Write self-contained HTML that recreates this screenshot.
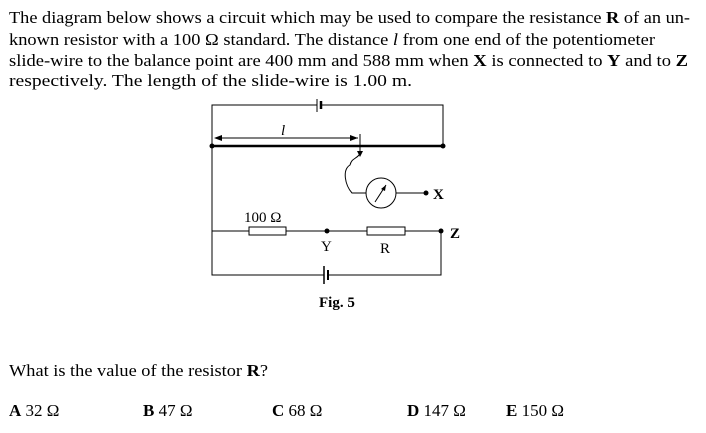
<!DOCTYPE html>
<html><head><meta charset="utf-8"><style>
html,body{margin:0;padding:0;background:#fff;}
svg{display:block;font-family:"Liberation Serif",serif;}
</style></head><body>
<svg width="706" height="433" viewBox="0 0 706 433" xmlns="http://www.w3.org/2000/svg">
<g font-size="17" fill="#000">
<text x="9" y="23" textLength="681" lengthAdjust="spacingAndGlyphs">The diagram below shows a circuit which may be used to compare the resistance <tspan font-weight="bold">R</tspan> of an un-</text>
<text x="9" y="45" textLength="646" lengthAdjust="spacingAndGlyphs">known resistor with a 100 Ω standard. The distance <tspan font-style="italic">l</tspan> from one end of the potentiometer</text>
<text x="9" y="66" textLength="679" lengthAdjust="spacingAndGlyphs">slide-wire to the balance point are 400 mm and 588 mm when <tspan font-weight="bold">X</tspan> is  connected to <tspan font-weight="bold">Y</tspan> and to <tspan font-weight="bold">Z</tspan></text>
<text x="9" y="86" textLength="403" lengthAdjust="spacingAndGlyphs">respectively. The length of the slide-wire is 1.00 m.</text>
<text x="9" y="376" textLength="259" lengthAdjust="spacingAndGlyphs">What is the value of the resistor <tspan font-weight="bold">R</tspan>?</text>
<text x="9" y="416"><tspan font-weight="bold">A</tspan> 32 Ω</text>
<text x="143" y="416"><tspan font-weight="bold">B</tspan> 47 Ω</text>
<text x="272" y="416"><tspan font-weight="bold">C</tspan> 68 Ω</text>
<text x="407" y="416"><tspan font-weight="bold">D</tspan> 147 Ω</text>
<text x="506" y="416"><tspan font-weight="bold">E</tspan> 150 Ω</text>
</g>
<g stroke="#000" fill="none" stroke-width="1">
<polyline points="317,105 212,105 212,275 324,275"/>
<polyline points="322,105 443,105 443,146"/>
<line x1="317" y1="99" x2="317" y2="112"/>
<line x1="321" y1="101" x2="321" y2="109" stroke-width="2.5"/>
<line x1="212" y1="146" x2="443" y2="146" stroke-width="2.5"/>
<line x1="216" y1="138" x2="358" y2="138"/>
<line x1="360" y1="134" x2="360" y2="154"/>
<path d="M360,154 C355,160 352,158 350,165 C342,170 345,185 352,193 L366,193"/>
<circle cx="381" cy="193" r="15"/>
<line x1="375" y1="202" x2="386" y2="185"/>
<line x1="396" y1="193" x2="426" y2="193"/>
<line x1="212" y1="231" x2="249" y2="231"/>
<rect x="249" y="227" width="37" height="8"/>
<line x1="286" y1="231" x2="367" y2="231"/>
<rect x="367" y="227" width="38" height="8"/>
<line x1="405" y1="231" x2="441" y2="231"/>
<polyline points="441,231 441,275 328,275"/>
<line x1="324" y1="266" x2="324" y2="284" stroke-width="1.5"/>
<line x1="328" y1="270" x2="328" y2="280" stroke-width="2"/>
</g>
<g fill="#000">
<polygon points="214,138 222,135 222,141"/>
<polygon points="358,138 350,135 350,141"/>
<polygon points="386,185 381,189 385,191"/>
<polygon points="360,157 357,151 363,151"/>
<circle cx="212" cy="146" r="2.5"/>
<circle cx="443" cy="146" r="2.5"/>
<circle cx="426" cy="193" r="2.5"/>
<circle cx="327" cy="231" r="2.5"/>
<circle cx="441" cy="231" r="2.5"/>
<text x="281" y="135" font-size="15" font-style="italic">l</text>
<text x="433" y="199" font-size="15" font-weight="bold">X</text>
<text x="450" y="238" font-size="15" font-weight="bold">Z</text>
<text x="321" y="251" font-size="15">Y</text>
<text x="380" y="253" font-size="15">R</text>
<text x="244" y="222" font-size="15">100 Ω</text>
<text x="319" y="307" font-size="15" font-weight="bold">Fig. 5</text>
</g>
</svg>
</body></html>
